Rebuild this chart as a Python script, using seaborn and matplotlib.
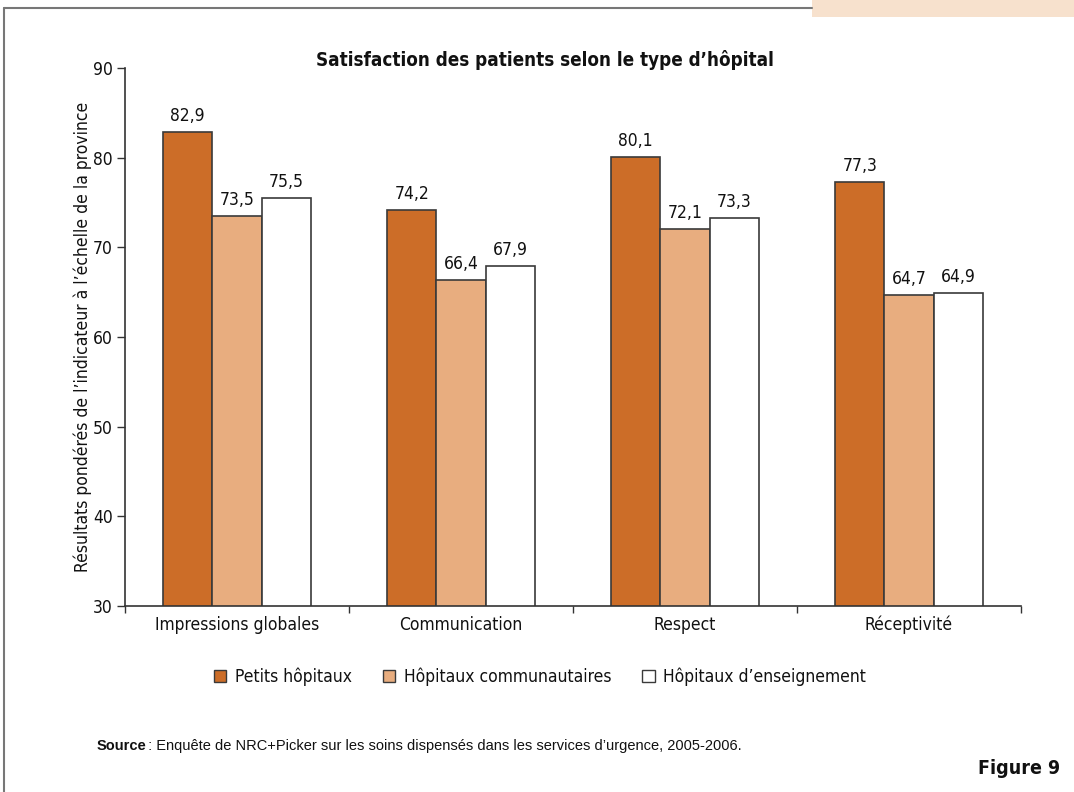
import matplotlib
matplotlib.use("Agg")
import matplotlib.pyplot as plt
import matplotlib.patches as mpatches
from matplotlib.ticker import FixedLocator
import seaborn as sns
import pandas as pd

categories = ["Impressions globales", "Communication", "Respect", "Réceptivité"]
series = ["Petits hôpitaux", "Hôpitaux communautaires", "Hôpitaux d’enseignement"]
petits = [82.9, 74.2, 80.1, 77.3]
communautaires = [73.5, 66.4, 72.1, 64.7]
enseignement = [75.5, 67.9, 73.3, 64.9]
colors = ["#CC6D28", "#E8AD7F", "#FFFFFF"]
yticks = [30, 40, 50, 60, 70, 80, 90]

rows = []
for s, vals in zip(series, [petits, communautaires, enseignement]):
    for c, v in zip(categories, vals):
        rows.append({"cat": c, "serie": s, "val": v})
df = pd.DataFrame(rows)

sns.set_theme(style="white")
plt.rcParams["font.family"] = ["DejaVu Sans"]
plt.rcParams["font.stretch"] = "condensed"
plt.rcParams["text.color"] = "#111"
plt.rcParams["axes.labelcolor"] = "#111"
plt.rcParams["xtick.color"] = "#111"
plt.rcParams["ytick.color"] = "#111"

fig = plt.figure(figsize=(10.74, 7.92), dpi=100)
ax = fig.add_axes([125/1074, 1-606/792, (1021-125)/1074, (606-68)/792])

sns.barplot(data=df, x="cat", y="val", hue="serie", order=categories,
            hue_order=series, palette=colors, width=0.66, gap=0,
            edgecolor="#3a3a3a", linewidth=1.2, ax=ax, legend=False,
            errorbar=None, saturation=1)

for cont in ax.containers:
    ax.bar_label(cont, labels=[f"{v:.1f}".replace(".", ",") for v in cont.datavalues],
                 padding=5, fontsize=12.5)

ax.set_ylim(30, 90)
ax.set_xlim(-0.5, 3.5)
ax.set_yticks(yticks)
ax.set_yticklabels([str(t) for t in yticks], fontsize=12.5)
ax.tick_params(axis="y", length=6, width=1, color="#333", direction="out", pad=3, left=True)
ax.tick_params(axis="x", which="major", length=0, labelsize=12.5, pad=7)
ax.xaxis.set_minor_locator(FixedLocator([-0.5, 0.5, 1.5, 2.5, 3.5]))
ax.tick_params(axis="x", which="minor", length=5, width=1, color="#333", direction="out", bottom=True)
ax.set_xlabel("")
ax.set_ylabel("Résultats pondérés de l’indicateur à l’échelle de la province", fontsize=12.5)
ax.yaxis.set_label_coords((92-125)/896, 0.5)
for sp in ["top", "right"]:
    ax.spines[sp].set_visible(False)
for sp in ["left", "bottom"]:
    ax.spines[sp].set_color("#333")
    ax.spines[sp].set_linewidth(1.2)

fig.text(545/1074, 1-60/792, "Satisfaction des patients selon le type d’hôpital",
         ha="center", va="center", fontsize=13.5, fontweight="bold")

handles = [mpatches.Patch(facecolor=c, edgecolor="#3a3a3a", linewidth=1.0, label=s)
           for s, c in zip(series, colors)]
fig.legend(handles=handles, loc="center", bbox_to_anchor=(540/1074, 1-677/792), ncol=3,
           frameon=False, fontsize=12.5, handlelength=0.7, handleheight=0.7,
           handletextpad=0.5, columnspacing=1.8)

fig.text(97/1074, 1-746/792, "Source", fontsize=10.5, fontweight="bold",
         family=["Liberation Sans", "DejaVu Sans"], stretch="normal", va="center", ha="left")
fig.text(144/1074, 1-746/792, " : Enquête de NRC+Picker sur les soins dispensés dans les services d’urgence, 2005-2006.",
         fontsize=10.5, family=["Liberation Sans", "DejaVu Sans"], stretch="normal", va="center", ha="left")
fig.text(1060/1074, 1-768/792, "Figure 9", fontsize=14, fontweight="bold", ha="right", va="center")

# frame and corner tab
fig.add_artist(plt.Line2D([4/1074, 4/1074], [0, 1-8/792], color="#777", lw=1.5, transform=fig.transFigure))
fig.add_artist(plt.Line2D([4/1074, 812/1074], [1-8/792, 1-8/792], color="#777", lw=1.5, transform=fig.transFigure))
fig.add_artist(mpatches.Rectangle((812/1074, 1-17/792), (1074-812)/1074, 17/792,
                                  facecolor="#F7E1CD", edgecolor="none", transform=fig.transFigure))

fig.savefig("out.png", dpi=100)
